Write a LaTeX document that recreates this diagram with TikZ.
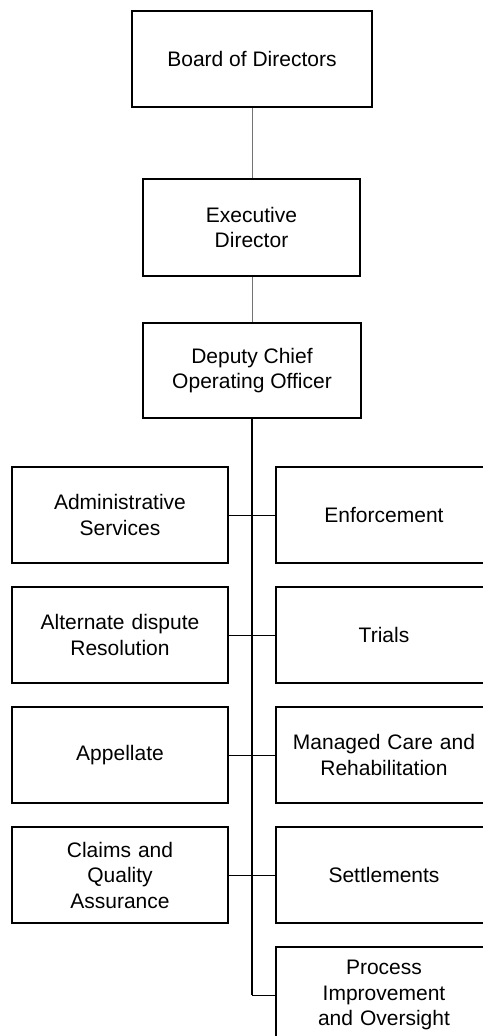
\documentclass[tikz,border=0pt]{standalone}
\usepackage{fontspec}
\setmainfont{Liberation Sans}
\begin{document}
\begin{tikzpicture}[x=1pt,y=-1pt,
  box/.style={draw=black,line width=1.5pt,fill=white,align=center,inner sep=0pt,
    font=\fontsize{21}{25.5}\selectfont},
  unit/.style={box,minimum width=216pt,minimum height=96pt,text width=210pt},
  upper/.style={draw=black!55,line width=1pt},
  trunk/.style={draw=black,line width=1.6pt},
  branch/.style={draw=black,line width=1pt}]
\useasboundingbox (0,0) rectangle (482,1036);
\fill[white] (0,0) rectangle (482,1036);
\node[box,minimum width=240pt,minimum height=96pt] (bod) at (252,59) {Board of Directors};
\node[box,minimum width=217pt,minimum height=97pt] (ed) at (251.5,227.5) {Executive\\Director};
\node[box,minimum width=218pt,minimum height=95pt] (dcoo) at (252,370.5) {Deputy Chief\\Operating Officer};
\node[unit] (adm) at (120,515) {Administrative\\Services};
\node[unit] (enf) at (384,515) {Enforcement};
\node[unit] (adr) at (120,635) {Alternate dispute\\Resolution};
\node[unit] (tri) at (384,635) {Trials};
\node[unit] (app) at (120,755) {Appellate};
\node[unit] (mcr) at (384,755) {Managed Care and\\Rehabilitation};
\node[unit] (cqa) at (120,875) {Claims and\\Quality\\Assurance};
\node[unit] (set) at (384,875) {Settlements};
\node[unit] (pio) at (384,995) {Process\\Improvement\\and Oversight};
\draw[upper] (bod.south -| 252,0) -- (ed.north -| 252,0);
\draw[upper] (ed.south -| 252,0) -- (dcoo.north -| 252,0);
\draw[trunk] (dcoo.south -| 252,0) -- (pio.west -| 252,0);
\draw[branch] (pio.west -| 252,0) -- (pio.west);
\draw[branch] (adm.east) -- (enf.west);
\draw[branch] (adr.east) -- (tri.west);
\draw[branch] (app.east) -- (mcr.west);
\draw[branch] (cqa.east) -- (set.west);
\end{tikzpicture}
\end{document}
